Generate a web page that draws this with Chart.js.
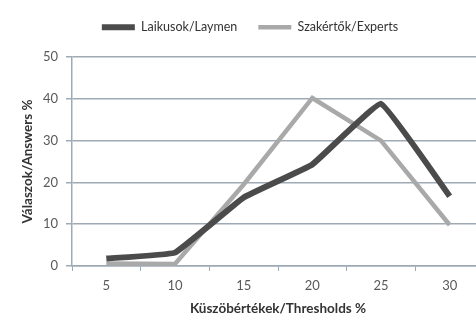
<!DOCTYPE html>
<html lang="en">
<head>
  <meta charset="UTF-8">
  <title>Küszöbértékek</title>
  <script src="https://cdn.jsdelivr.net/npm/chart.js"></script>
  <style>
    html, body { margin: 0; padding: 0; background: #fff; overflow: hidden; }
    #wrap { width: 484px; height: 319px; }
  </style>
</head>
<body>
  <div id="wrap"><canvas id="chart" width="484" height="319"></canvas></div>

  <script>
    // data
    const thresholds = ['5', '10', '15', '20', '25', '30'];
    const laymen = [1.8, 3.2, 16.4, 24.3, 38.8, 16.7];
    const experts = [0.6, 0.5, 19.5, 40.2, 30, 9.8];
    const yTicks = [0, 10, 20, 30, 40, 50];

    const gridColor = '#9eaab4';
    const font = "Lato, 'Open Sans', sans-serif";

    // make the legend box tall enough so the plot starts lower
    const legendHeight = {
      id: 'legendHeight',
      afterInit(chart) {
        const lg = chart.legend;
        if (!lg) return;
        const fit = lg.fit;
        lg.fit = function () {
          fit.call(this);
          this.height = 57;
        };
      }
    };

    new Chart(document.getElementById('chart'), {
      type: 'line',
      data: {
        labels: thresholds,
        datasets: [
          {
            label: 'Laikusok/Laymen',
            data: laymen,
            borderColor: '#4b4b4b',
            backgroundColor: '#4b4b4b',
            borderWidth: 6,
            pointRadius: 0,
            tension: 0.08,
            order: 1
          },
          {
            label: 'Szakértők/Experts',
            data: experts,
            borderColor: '#a9a9a9',
            backgroundColor: '#a9a9a9',
            borderWidth: 4.5,
            pointRadius: 0,
            tension: 0,
            order: 2
          }
        ]
      },
      plugins: [legendHeight],
      options: {
        responsive: false,
        animation: false,
        layout: { padding: { top: 0, right: 0, bottom: 0, left: 16 } },
        plugins: {
          legend: {
            position: 'top',
            labels: {
              usePointStyle: true,
              pointStyle: 'line',
              pointStyleWidth: 33,
              color: '#333',
              font: { family: font, size: 12.5 },
              padding: 21
            }
          },
          tooltip: { enabled: false }
        },
        scales: {
          x: {
            offset: true,
            grid: {
              offset: true,
              drawOnChartArea: false,
              drawTicks: true,
              tickLength: 5,
              color: gridColor
            },
            border: { color: gridColor, width: 1.5 },
            ticks: {
              color: '#595959',
              font: { family: font, size: 13 },
              padding: 7
            },
            title: {
              display: true,
              text: 'Küszöbértékek/Thresholds %',
              color: '#333',
              font: { family: font, size: 13.5, weight: 'bold' },
              padding: { top: 1, bottom: 2 }
            },
            afterFit: (axis) => { axis.height = 53; }
          },
          y: {
            min: 0,
            max: 50,
            afterBuildTicks: (axis) => { axis.ticks = yTicks.map(v => ({ value: v })); },
            grid: {
              color: gridColor,
              lineWidth: 1.5,
              drawTicks: true,
              tickLength: 6
            },
            border: { color: gridColor, width: 1.5 },
            ticks: {
              color: '#595959',
              font: { family: font, size: 13 },
              padding: 8
            },
            title: {
              display: true,
              text: 'Válaszok/Answers %',
              color: '#333',
              font: { family: font, size: 13.5, weight: 'bold' },
              padding: { top: 4, bottom: 0 }
            },
            afterFit: (axis) => { axis.width = 56; }
          }
        }
      }
    });
  </script>
</body>
</html>
